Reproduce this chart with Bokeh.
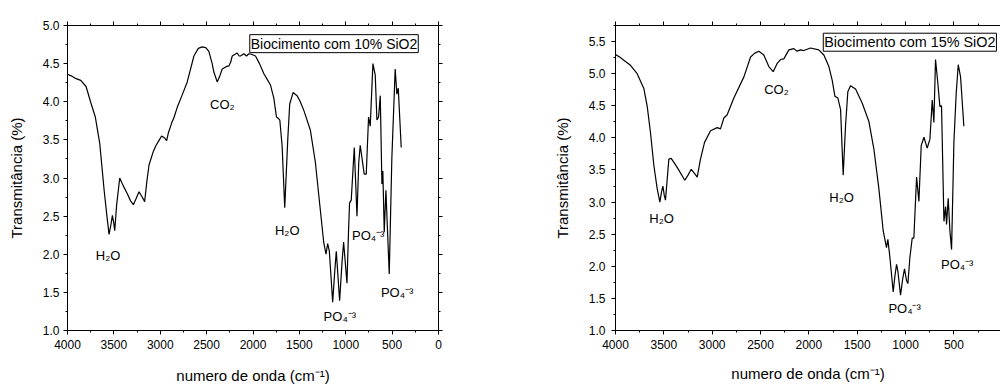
from bokeh.plotting import figure
from bokeh.layouts import row
from bokeh.models import Range1d, SingleIntervalTicker, LinearAxis, PrintfTickFormatter, Label, ColumnDataSource
from bokeh.core.properties import value
from bokeh.embed import file_html
from bokeh.resources import INLINE

FONT = "Liberation Sans"

# ---- data: Biocimento com 10% SiO2 ----
wn_10 = [4000, 3960, 3920, 3857, 3800, 3749, 3700, 3677, 3652, 3605, 3575, 3552, 3530, 3516, 3500, 3491,
         3470, 3437, 3400, 3354, 3320, 3290, 3260, 3229, 3200, 3168, 3145, 3121, 3080, 3049, 3010, 2985,
         2950, 2931, 2913, 2877, 2850, 2816, 2760, 2709, 2637, 2590, 2547, 2510, 2476, 2440, 2422, 2386,
         2360, 2332, 2290, 2260, 2240, 2224, 2171, 2150, 2135, 2099, 2070, 2045, 2010, 1973, 1930, 1884,
         1850, 1812, 1776, 1747, 1725, 1711, 1686, 1658, 1640, 1625, 1604, 1568, 1525, 1490, 1453, 1382,
         1328, 1274, 1238, 1213, 1195, 1177, 1141, 1120, 1102, 1066, 1040, 1023, 987, 970, 959, 941, 908,
         879, 860, 844, 801, 779, 754, 736, 707, 682, 664, 646, 628, 610, 600, 585, 567, 531, 503, 467,
         449, 434, 402]
t_10 = [4.36, 4.34, 4.31, 4.28, 4.20, 3.99, 3.80, 3.63, 3.45, 2.84, 2.50, 2.26, 2.40, 2.51, 2.40, 2.31,
        2.65, 3.00, 2.90, 2.79, 2.70, 2.65, 2.73, 2.82, 2.76, 2.69, 2.95, 3.17, 3.33, 3.42, 3.50, 3.55,
        3.52, 3.49, 3.59, 3.72, 3.80, 3.93, 4.10, 4.26, 4.60, 4.70, 4.72, 4.71, 4.66, 4.50, 4.39, 4.26,
        4.33, 4.43, 4.46, 4.47, 4.52, 4.60, 4.64, 4.60, 4.60, 4.63, 4.60, 4.63, 4.62, 4.60, 4.50, 4.37,
        4.30, 4.22, 4.05, 3.80, 3.78, 3.76, 3.42, 2.61, 3.10, 3.51, 3.97, 4.12, 4.08, 4.00, 3.89, 3.63,
        3.21, 2.58, 2.16, 2.00, 2.14, 2.04, 1.37, 1.75, 2.04, 1.39, 1.90, 2.16, 1.62, 2.30, 2.67, 2.71, 3.40,
        2.50, 3.20, 3.43, 3.05, 3.05, 3.80, 3.68, 4.50, 4.35, 3.76, 3.80, 4.08, 2.92, 3.09, 2.29, 2.84,
        1.74, 3.26, 4.43, 4.10, 4.18, 3.40]

# ---- data: Biocimento com 15% SiO2 ----
wn_15 = [4000, 3950, 3914, 3845, 3776, 3707, 3672, 3638, 3603, 3569, 3541, 3525, 3510, 3495, 3483, 3448,
         3424, 3362, 3283, 3250, 3217, 3185, 3155, 3121, 3079, 3017, 2948, 2914, 2879, 2845, 2776, 2672,
         2603, 2560, 2517, 2466, 2414, 2369, 2328, 2293, 2259, 2207, 2155, 2121, 2086, 2052, 1983, 1897,
         1845, 1793, 1759, 1731, 1700, 1672, 1645, 1621, 1597, 1569, 1517, 1448, 1380, 1328, 1276, 1231,
         1197, 1183, 1162, 1128, 1110, 1093, 1080, 1052, 1030, 1011, 990, 976, 955, 931, 914, 886, 862,
         838, 810, 776, 748, 724, 707, 690, 666, 645, 628, 603, 586, 576, 559, 541, 524, 500, 476, 455,
         431, 397]
t_15 = [5.30, 5.25, 5.21, 5.13, 5.00, 4.77, 4.49, 4.08, 3.57, 3.21, 3.00, 3.15, 3.25, 3.10, 3.03, 3.67,
        3.68, 3.54, 3.34, 3.42, 3.51, 3.45, 3.39, 3.67, 3.93, 4.11, 4.16, 4.14, 4.31, 4.36, 4.62, 4.95,
        5.26, 5.32, 5.35, 5.29, 5.11, 5.03, 5.16, 5.22, 5.23, 5.37, 5.39, 5.35, 5.37, 5.36, 5.40, 5.37,
        5.29, 5.11, 4.90, 4.65, 4.62, 4.44, 3.42, 4.18, 4.72, 4.81, 4.76, 4.54, 4.26, 3.83, 3.21, 2.55,
        2.29, 2.42, 2.14, 1.60, 1.85, 2.03, 1.93, 1.55, 1.80, 1.96, 1.78, 1.73, 2.14, 2.44, 2.44, 3.39, 3.01,
        3.88, 4.01, 3.84, 3.98, 4.59, 4.24, 5.22, 4.85, 4.49, 4.50, 2.70, 2.93, 2.65, 3.06, 2.55, 2.26, 3.93,
        4.70, 5.14, 4.95, 4.18]

# ---- peak annotations ----
ann_10_text = ["H₂O", "CO₂", "H₂O", "PO₄⁻³", "PO₄⁻³", "PO₄⁻³"]
ann_10_x = [3563, 2331, 1631, 1064, 758, 446]
ann_10_y = [1.98, 3.97, 2.31, 1.19, 2.25, 1.50]

ann_15_text = ["H₂O", "CO₂", "H₂O", "PO₄⁻³", "PO₄⁻³"]
ann_15_x = [3524, 2335, 1662, 1010, 466]
ann_15_y = [2.75, 4.75, 3.07, 1.34, 2.03]

titles = ["Biocimento com 10% SiO2", "Biocimento com 15% SiO2"]
x_label = "numero de onda (cm⁻¹)"
y_label = "Transmitância (%)"


def style_axis(ax, labels=True):
    ax.axis_line_color = "black"
    ax.major_tick_line_color = "black"
    ax.minor_tick_line_color = "black"
    ax.major_tick_out = 4
    ax.major_tick_in = 0
    ax.minor_tick_out = 2
    ax.minor_tick_in = 0
    ax.major_label_text_font = FONT
    ax.major_label_text_font_size = "12px"
    ax.major_label_text_color = "black"
    ax.axis_label_text_font = FONT
    ax.axis_label_text_font_size = "15px"
    ax.axis_label_text_font_style = "normal"
    ax.axis_label_text_color = "black"
    if not labels:
        ax.major_label_text_font_size = "0px"
        ax.major_label_text_color = None
        ax.major_label_standoff = 0
        ax.axis_label_standoff = 0


def make_panel(wn, t, ymax, xend, ann_t, ann_x, ann_y, title, width, height,
               bl, br, bt, bb, title_x, title_y, title_size,
               x_std, y_lab_std, y_axis_std, right_axis=True, outline=True):
    p = figure(width=width, height=height, output_backend="svg", toolbar_location=None,
               x_range=Range1d(4000, xend), y_range=Range1d(1.0, ymax),
               min_border_left=bl, min_border_right=br, min_border_top=bt, min_border_bottom=bb,
               x_axis_label=x_label, y_axis_label=y_label)
    p.grid.visible = False
    p.outline_line_color = "black" if outline else None
    p.background_fill_color = "white"
    p.border_fill_color = "white"

    p.xaxis.ticker = SingleIntervalTicker(interval=500, num_minor_ticks=2)
    p.yaxis.ticker = SingleIntervalTicker(interval=0.5, num_minor_ticks=2)
    p.yaxis.formatter = PrintfTickFormatter(format="%.1f")
    for ax in p.xaxis + p.yaxis:
        style_axis(ax)
    p.xaxis.major_label_standoff = 5
    p.xaxis.axis_label_standoff = x_std
    p.yaxis.major_label_standoff = y_lab_std
    p.yaxis.axis_label_standoff = y_axis_std

    top = LinearAxis(ticker=SingleIntervalTicker(interval=500, num_minor_ticks=2))
    style_axis(top, labels=False)
    p.add_layout(top, "above")
    if right_axis:
        rt = LinearAxis(ticker=SingleIntervalTicker(interval=0.5, num_minor_ticks=2))
        style_axis(rt, labels=False)
        p.add_layout(rt, "right")

    p.line(wn, t, line_color="black", line_width=1.2)

    src = ColumnDataSource(dict(x=ann_x, y=ann_y, text=ann_t))
    p.text(x="x", y="y", text="text", source=src, text_font=value(FONT), text_font_size="13px",
           text_align="center", text_baseline="middle", text_color="black")

    p.add_layout(Label(x=title_x, y=title_y, text=title, anchor="top_right", text_font=FONT,
                       text_font_size=title_size, text_color="black", padding=1,
                       border_line_color="black", border_line_width=1,
                       background_fill_color="white"))
    return p


p1 = make_panel(wn_10, t_10, 5.0, 0, ann_10_text, ann_10_x, ann_10_y, titles[0],
                500, 386, 67, 62, 15, 54, 218, 4.88, "14px", 15, 4, 15)
p2 = make_panel(wn_15, t_15, 5.75, 18, ann_15_text, ann_15_x, ann_15_y, titles[1],
                500, 386, 115, 0, 25, 52, 60, 5.63, "14.4px", 13, 6, 15,
                right_axis=False, outline=False)

layout = row(p1, p2)
open("out.html", "w").write(file_html(layout, INLINE))
